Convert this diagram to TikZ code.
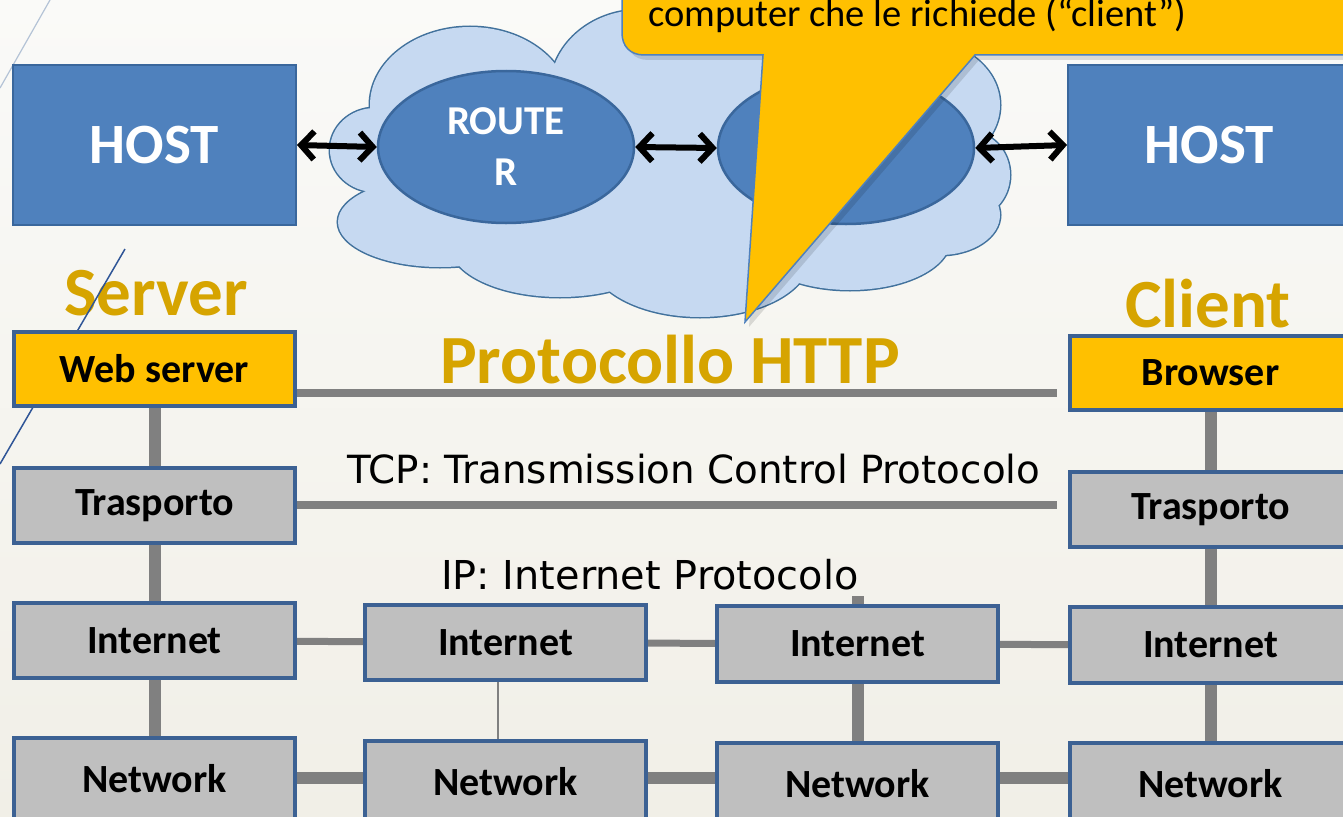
\documentclass[tikz,border=0pt]{standalone}
\usepackage{fontspec}
\setmainfont{Carlito}
\newfontfamily\tahoma{DejaVu Sans}
\usetikzlibrary{arrows.meta,shapes.geometric}
\pgfdeclarelayer{bglayer}
\pgfdeclarelayer{connlayer}
\pgfsetlayers{bglayer,connlayer,main}
\definecolor{bgtop}{HTML}{FAFAF8}
\definecolor{bgbot}{HTML}{F1EFE7}
\definecolor{hostblue}{HTML}{4F81BD}
\definecolor{hostline}{HTML}{3A679C}
\definecolor{cloudfill}{HTML}{C6D9F1}
\definecolor{cloudline}{HTML}{41719C}
\definecolor{goldtxt}{HTML}{D6A400}
\definecolor{yel}{HTML}{FFC000}
\definecolor{boxgray}{HTML}{BFBFBF}
\definecolor{boxline}{HTML}{3C6193}
\definecolor{conn}{HTML}{808080}
\definecolor{diagdark}{HTML}{2F5597}
\definecolor{diaglight}{HTML}{B4C3D6}
\tikzset{
  hostbox/.style={draw=hostline, line width=2pt, fill=hostblue, minimum width=283pt, minimum height=160pt, inner sep=0pt, text=white, font=\bfseries\fontsize{57}{60}\selectfont},
  router/.style={ellipse, draw=hostline, line width=2.5pt, fill=hostblue, minimum width=256pt, minimum height=152pt, inner sep=0pt, text=white, align=center, font=\bfseries\fontsize{41}{51}\selectfont},
  dblarrow/.style={line width=6pt, {Straight Barb[length=13pt,width=28pt,line width=6pt]}-{Straight Barb[length=13pt,width=28pt,line width=6pt]}},
  layerbox/.style={draw=boxline, line width=4pt, fill=boxgray, minimum width=281pt, inner sep=0pt, font=\bfseries\fontsize{40}{44}\selectfont},
  appbox/.style={layerbox, fill=yel},
  goldlabel/.style={text=goldtxt, font=\bfseries\fontsize{69}{70}\selectfont, inner sep=0pt},
  plaintxt/.style={font=\tahoma\fontsize{38.8}{42}\selectfont, inner sep=0pt},
  vthick/.style={draw=conn, line width=12pt},
  vthin/.style={draw=conn, line width=2pt},
  hmid/.style={draw=conn, line width=7pt},
  hthick/.style={draw=conn, line width=12pt},
  protoline/.style={draw=conn, line width=8pt},
}
\begin{document}
\begin{tikzpicture}[x=1pt,y=-1pt]
\useasboundingbox (0,0) rectangle (1343,816);
\clip (0,0) rectangle (1343,816);
\begin{pgfonlayer}{bglayer}
\shade[top color=bgtop, bottom color=bgbot] (0,0) rectangle (1343,816);
\end{pgfonlayer}
% faint diagonal line top-left
\draw[diaglight, line width=1.2pt] (50,0) -- (0,88);
% cloud
\def\lobes{375/150/45/42, 470/105/100/78, 640/90/90/80, 790/80/100/75, 920/105/80/65, 968/175/42/44, 440/222/102/45, 560/245/110/52, 700/257/110/60, 850/240/100/50, 940/215/60/40, 680/165/300/110}
\foreach \cx/\cy/\rx/\ry in \lobes {
  \draw[cloudline, line width=3pt] (\cx,\cy) ellipse [x radius=\rx pt, y radius=\ry pt];
}
\foreach \cx/\cy/\rx/\ry in \lobes {
  \fill[cloudfill] (\cx,\cy) ellipse [x radius=\rx pt, y radius=\ry pt];
}
% routers
\node[router] (r1) at (506,147) {ROUTE\\R};
\node[router] (r2) at (846,148) {};
% hosts
\node[hostbox] (hl) at (154.5,145) {HOST};
\node[hostbox] (hr) at (1209.5,145) {HOST};
% arrows
\draw[dblarrow] (hl.east) -- (r1.west);
\draw[dblarrow] (r1.east) -- (r2.west);
\draw[dblarrow] (r2.east) -- (hr.west);
% callout
\fill[black, opacity=0.12] (626,-10) -- (626,38) .. controls (626,50) and (634,60) .. (648,60) -- (767,60) -- (749,327) -- (979,60) -- (1360,60) -- (1360,-10) -- cycle;
\filldraw[fill=yel, draw=hostblue, line width=1.5pt] (622,-10) -- (622,33) .. controls (622,46) and (630,55) .. (644,55) -- (763,55) -- (745,322) -- (975,55) -- (1360,55) -- (1360,-10) -- cycle;
\node[anchor=base west, inner sep=0pt, font=\fontsize{38.5}{40}\selectfont] (ctext) at (648,27) {computer che le richiede (“client”)};
% gold labels
\node[goldlabel, anchor=base] (srv) at (156,315) {Server};
\node[goldlabel, anchor=base] (cli) at (1208,327) {Client};
\node[goldlabel, anchor=base] (http) at (670,383) {Protocollo HTTP};
% dark diagonal line
\draw[diagdark, line width=1.5pt] (125,249) -- (0,464);
% layer boxes
\node[appbox, minimum height=74pt] (ws) at (154.5,369) {Web server};
\node[layerbox, minimum height=75pt] (tr1) at (154.5,505.5) {Trasporto};
\node[layerbox, minimum height=75pt] (in1) at (154.5,640.5) {Internet};
\node[layerbox, minimum height=82pt] (nw1) at (154.5,779) {Network};
\node[layerbox, minimum height=75pt] (in2) at (505.5,642.5) {Internet};
\node[layerbox, minimum height=82pt] (nw2) at (505.5,782) {Network};
\node[layerbox, minimum height=76pt] (in3) at (857.5,644) {Internet};
\node[layerbox, minimum height=82pt] (nw3) at (857.5,784) {Network};
\node[appbox, minimum height=74pt] (br) at (1210.5,373) {Browser};
\node[layerbox, minimum height=75pt] (tr4) at (1210.5,509.5) {Trasporto};
\node[layerbox, minimum height=76pt] (in4) at (1210.5,645) {Internet};
\node[layerbox, minimum height=82pt] (nw4) at (1210.5,784) {Network};
% connector end points
\coordinate (httpend) at (1057,393);
\coordinate (tcpend) at (1057,505);
\coordinate (stub) at (857.5,596);
\coordinate (nwrow) at (0,778);
% connectors behind boxes
\begin{pgfonlayer}{connlayer}
\draw[vthick] (ws) -- (tr1);
\draw[vthick] (tr1) -- (in1);
\draw[vthick] (in1) -- (nw1);
\draw[vthick] (br) -- (tr4);
\draw[vthick] (tr4) -- (in4);
\draw[vthick] (in4) -- (nw4);
\draw[vthick] (stub) -- (in3);
\draw[vthick] (in3) -- (nw3);
\draw[vthin] ([xshift=-8pt]in2.south) -- ([xshift=-8pt]nw2.north);
\draw[protoline] (ws.east |- httpend) -- (httpend);
\draw[protoline] (tr1.east |- tcpend) -- (tcpend);
\draw[hmid] (in1) -- (in2);
\draw[hmid] (in2) -- (in3);
\draw[hmid] (in3) -- (in4);
\draw[hthick] (nw1.east |- nwrow) -- (nw2.west |- nwrow);
\draw[hthick] (nw2.east |- nwrow) -- (nw3.west |- nwrow);
\draw[hthick] (nw3.east |- nwrow) -- (nw4.west |- nwrow);
\end{pgfonlayer}
% text labels
\node[plaintxt, anchor=base west] (tcp) at (347,483) {TCP: Transmission Control Protocolo};
\node[plaintxt, anchor=base west, font=\tahoma\fontsize{39.8}{42}\selectfont] (ip) at (441,589) {IP: Internet Protocolo};
\end{tikzpicture}
\end{document}
